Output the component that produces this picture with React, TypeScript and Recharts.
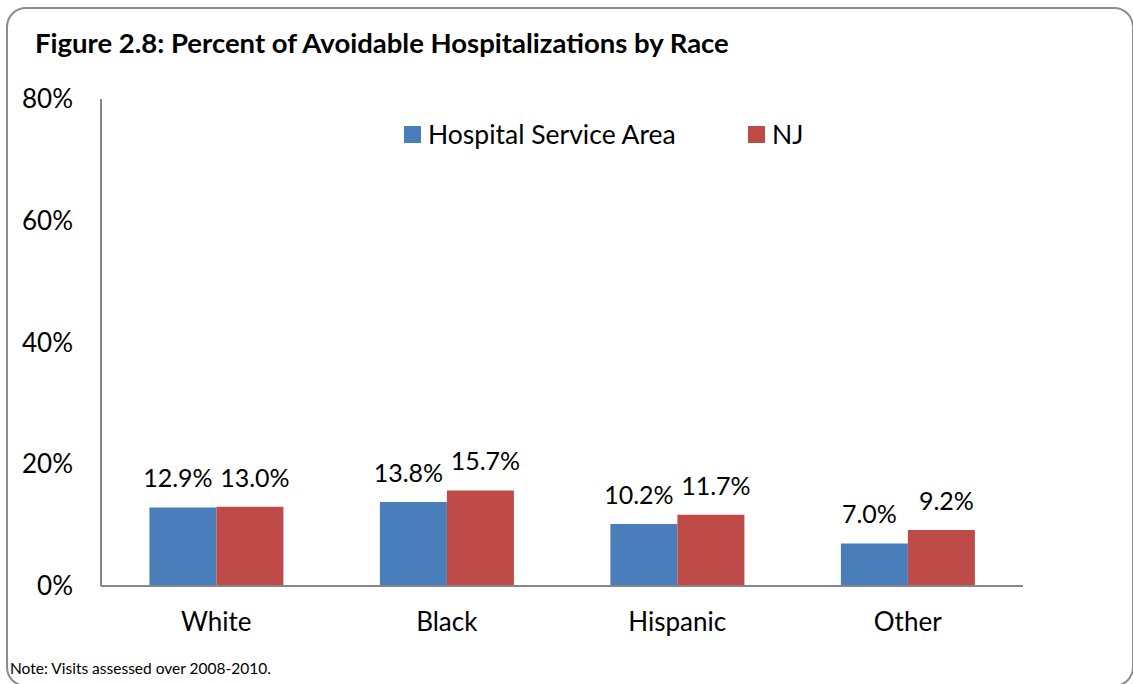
import React from "react"
import { BarChart, Bar, XAxis, YAxis, LabelList } from "recharts"

const races = ["White", "Black", "Hispanic", "Other"]
const serviceArea = [12.9, 13.8, 10.2, 7.0]
const nj = [13.0, 15.7, 11.7, 9.2]
const yTicks = [0, 20, 40, 60, 80]

const data = races.map((race, i) => ({ race, hsa: serviceArea[i], nj: nj[i] }))

const FONT = "Lato, 'Open Sans', sans-serif"
const BLUE = "#4A7EBB"
const RED = "#BE4B48"

function LegendItem({ color, label, left }: { color: string; label: string; left: number }) {
    return (
        <div style={{ position: "absolute", left, top: 119, display: "flex", alignItems: "center", height: 30 }}>
            <span style={{ width: 17, height: 17, background: color, display: "inline-block", marginRight: 7 }} />
            <span style={{ fontSize: 26.5, color: "#000", lineHeight: "30px" }}>{label}</span>
        </div>
    )
}

// value label above a bar, nudged sideways a bit so neighbouring labels don't touch
const barLabel = (shift: number) => (props: any) => {
    const { x, y, width, value } = props
    return (
        <text x={Number(x) + Number(width) / 2 + shift} y={Number(y) - 20} textAnchor="middle"
            fill="#000" fontSize={25} fontFamily={FONT}>
            {`${Number(value).toFixed(1)}%`}
        </text>
    )
}

export default function App() {
    return (
        <div style={{ position: "relative", width: 1133, height: 684, background: "#fff", overflow: "hidden", fontFamily: FONT }}>
            <style>{`body{margin:0}`}</style>
            <div style={{
                position: "absolute", left: 6, top: 7, width: 1128, height: 680,
                border: "2px solid #8c8c8c", borderRadius: 20, boxSizing: "border-box"
            }} />
            <div style={{ position: "absolute", left: 35, top: 26, fontSize: 27.5, fontWeight: 700, color: "#000", whiteSpace: "nowrap" }}>
                Figure 2.8: Percent of Avoidable Hospitalizations by Race
            </div>
            <div style={{ position: "absolute", left: 10, top: 659, fontSize: 15.5, color: "#000", whiteSpace: "nowrap" }}>
                Note: Visits assessed over 2008-2010.
            </div>
            <LegendItem color={BLUE} label="Hospital Service Area" left={404} />
            <LegendItem color={RED} label="NJ" left={748} />
            <div style={{ position: "absolute", left: 0, top: 0 }}>
                <BarChart width={1133} height={684} data={data}
                    margin={{ top: 99, right: 110, bottom: 68, left: 0 }}
                    barCategoryGap="21%" barGap={0}>
                    <XAxis dataKey="race" height={30} tickLine={false} tickSize={0} tickMargin={27}
                        axisLine={{ stroke: "#868686", strokeWidth: 2 }}
                        tick={{ fill: "#000", fontSize: 26, fontFamily: FONT }} />
                    <YAxis domain={[0, 80]} ticks={yTicks} width={101} tickLine={false} tickSize={0} tickMargin={28}
                        tickFormatter={(v: number) => `${v}%`}
                        axisLine={{ stroke: "#868686", strokeWidth: 2 }}
                        tick={{ fill: "#000", fontSize: 26, fontFamily: FONT }} />
                    <Bar dataKey="hsa" name="Hospital Service Area" fill={BLUE} isAnimationActive={false}>
                        <LabelList dataKey="hsa" content={barLabel(-5)} />
                    </Bar>
                    <Bar dataKey="nj" name="NJ" fill={RED} isAnimationActive={false}>
                        <LabelList dataKey="nj" content={barLabel(5)} />
                    </Bar>
                </BarChart>
            </div>
        </div>
    )
}
